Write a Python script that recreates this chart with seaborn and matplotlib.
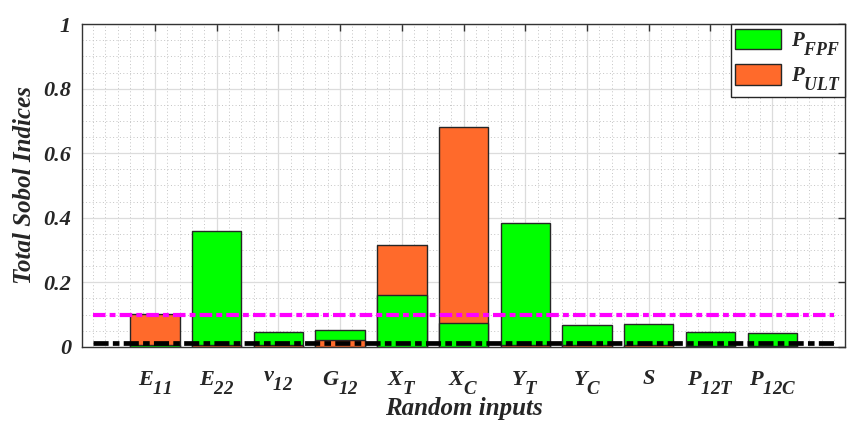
import matplotlib
matplotlib.use("Agg")
import matplotlib.pyplot as plt
import matplotlib._mathtext as _mathtext
from matplotlib.ticker import MultipleLocator
import numpy as np
import pandas as pd
import seaborn as sns

# Input parameters and their labels
inputs = ["E11", "E22", "nu12", "G12", "XT", "XC", "YT", "YC", "S", "P12T", "P12C"]
input_labels = [r"$E_{11}$", r"$E_{22}$", r"$\nu_{12}$", r"$G_{12}$", r"$X_{T}$",
                r"$X_{C}$", r"$Y_{T}$", r"$Y_{C}$", r"$S$", r"$P_{12T}$", r"$P_{12C}$"]

# Total Sobol indices for first-ply failure and ultimate load
p_fpf = [0.005, 0.36, 0.045, 0.053, 0.16, 0.075, 0.383, 0.068, 0.071, 0.047, 0.044]
p_ult = [0.101, 0.006, 0.005, 0.02, 0.316, 0.682, 0.006, 0.005, 0.005, 0.004, 0.004]

series_names = ["P_FPF", "P_ULT"]
series_labels = [r"$P_{FPF}$", r"$P_{ULT}$"]

# Significance thresholds
threshold_high = 0.1
threshold_low = 0.011

y_ticks = [0, 0.2, 0.4, 0.6, 0.8, 1.0]
y_tick_labels = ["0", "0.2", "0.4", "0.6", "0.8", "1"]

df = pd.DataFrame({
    "input": inputs * 2,
    "value": p_fpf + p_ult,
    "series": [series_names[0]] * len(inputs) + [series_names[1]] * len(inputs),
})

sns.set_theme(style="white")
plt.rcParams["font.family"] = ["Liberation Serif", "DejaVu Serif"]
plt.rcParams["font.weight"] = "bold"
plt.rcParams["font.style"] = "italic"
plt.rcParams["mathtext.fontset"] = "custom"
plt.rcParams["mathtext.rm"] = "Liberation Serif:bold:italic"
plt.rcParams["mathtext.it"] = "Liberation Serif:bold:italic"
plt.rcParams["mathtext.bf"] = "Liberation Serif:bold:italic"
# larger, lower subscripts
_mathtext.SHRINK_FACTOR = 0.85
_mathtext.FontConstantsBase.sub1 = 0.95
_mathtext.FontConstantsBase.sub2 = 0.95
_mathtext.FontConstantsBase.script_space = 0.15

fig = plt.figure(figsize=(8.51, 4.23), dpi=100)
ax = fig.add_axes([0.0964, 0.18, 0.8966, 0.763])

colors = {"P_FPF": "#00ff00", "P_ULT": "#ff6a2b"}
sns.barplot(data=df, x="input", y="value", hue="series", order=inputs,
            hue_order=series_names, palette=colors, dodge=False, width=0.8,
            saturation=1, edgecolor="#262626", linewidth=1.0, ax=ax,
            errorbar=None)

# Put the smaller bar of each pair in front
c_fpf, c_ult = ax.containers[0], ax.containers[1]
for b1, b2 in zip(c_fpf, c_ult):
    if b1.get_height() <= b2.get_height():
        b1.set_zorder(2.2); b2.set_zorder(2.1)
    else:
        b1.set_zorder(2.1); b2.set_zorder(2.2)

x_span = [-1, len(inputs)]
ax.plot(x_span, [threshold_high] * 2, color="#ff00ff", lw=3,
        ls=(0, (3.0, 1.0, 1.4, 1.0)), zorder=3, dash_capstyle="butt")
ax.plot(x_span, [threshold_low] * 2, color="black", lw=3.4,
        ls=(0, (3.2, 0.9, 1.4, 0.9)), zorder=3, dash_capstyle="butt")

ax.set_xlim(-1.18, len(inputs) + 0.18)
ax.set_ylim(0, 1)
ax.set_yticks(y_ticks)
ax.set_yticklabels(y_tick_labels)
ax.set_xticks(range(len(inputs)))
ax.set_xticklabels(input_labels)
ax.xaxis.set_minor_locator(MultipleLocator(0.2))
ax.yaxis.set_minor_locator(MultipleLocator(0.05))

ax.set_axisbelow(True)
ax.grid(which="major", color="#dcdcdc", lw=0.9, ls="-")
ax.grid(which="minor", color="#c4c4c4", lw=0.7, ls=(0, (1, 2.5)))

ax.tick_params(which="major", direction="in", length=5, width=1, color="#333333",
               top=True, right=True)
ax.tick_params(axis="x", labelsize=16, pad=16)
ax.tick_params(axis="y", labelsize=16, pad=8)
ax.tick_params(which="minor", length=0)
for lab in ax.get_xticklabels() + ax.get_yticklabels():
    lab.set_fontweight("bold"); lab.set_fontstyle("italic")
for s in ax.spines.values():
    s.set_color("#333333"); s.set_linewidth(1.0)

ax.set_xlabel("Random inputs", fontsize=18, fontweight="bold", fontstyle="italic",
              labelpad=0)
ax.set_ylabel("Total Sobol Indices", fontsize=18, fontweight="bold",
              fontstyle="italic", labelpad=5)

handles, _ = ax.get_legend_handles_labels()
leg = ax.legend(handles, series_labels, loc="upper right", borderaxespad=0,
                fontsize=15, handlelength=2.2, handleheight=1.15,
                labelspacing=0.3, handletextpad=0.45, borderpad=0.22,
                fancybox=False, framealpha=1, edgecolor="#262626")
leg.get_frame().set_linewidth(1.0)

fig.savefig("out.png", dpi=100)
